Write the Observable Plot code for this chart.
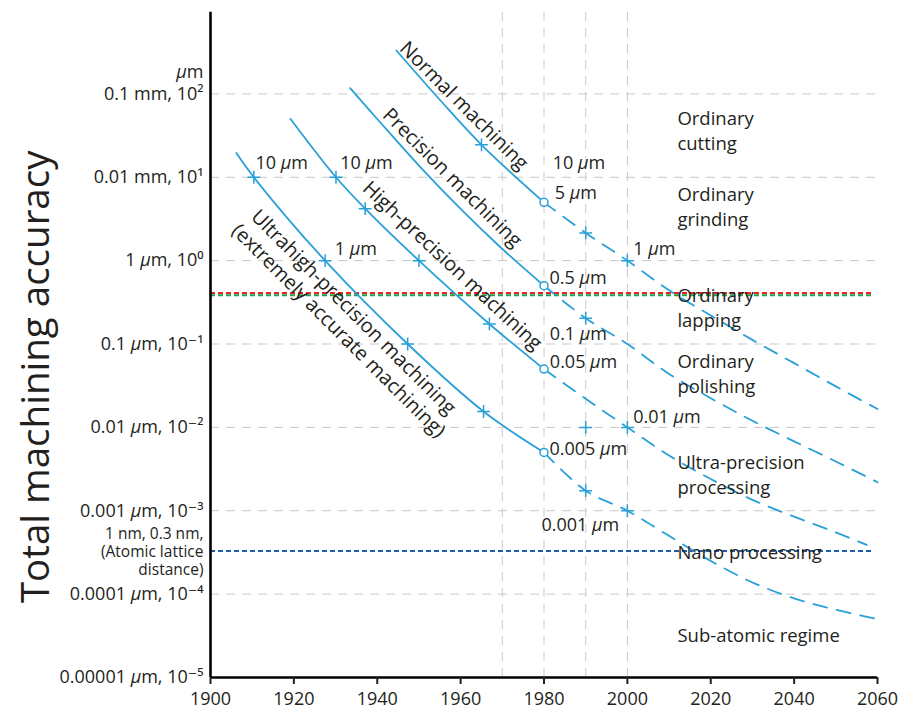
<!DOCTYPE html>
<html>
<head>
<meta charset="utf-8">
<script src="https://cdn.jsdelivr.net/npm/d3@7"></script>
<script src="https://cdn.jsdelivr.net/npm/@observablehq/plot@0.6"></script>
<style>
  body { margin: 0; background: #fff; }
  #chart svg { display: block; }
</style>
</head>
<body>
<div id="chart"></div>
<script>
// Achievable machining accuracy (μm) by year, after Taniguchi.
// Solid = achieved up to 1980, dashed = projected.
const normalSolidYears = [1944.6, 1955, 1965, 1980];
const normalSolidValues = [331, 85, 24.5, 5];
const normalDashYears = [1980, 1990, 2000, 2010, 2020, 2030, 2040, 2050, 2060];
const normalDashValues = [5, 2.15, 1.0, 0.44, 0.22, 0.112, 0.059, 0.031, 0.0166];

const precisionSolidYears = [1933.5, 1940, 1950, 1960, 1970, 1980];
const precisionSolidValues = [117, 50, 13.8, 4.17, 1.38, 0.5];
const precisionDashYears = [1980, 1990, 2000, 2010, 2020, 2030, 2040, 2050, 2060];
const precisionDashValues = [0.5, 0.204, 0.1, 0.0437, 0.0224, 0.012, 0.0068, 0.0039, 0.0022];

const highSolidYears = [1919.2, 1930.1, 1937.1, 1950, 1966.9, 1980];
const highSolidValues = [50, 10, 4.2, 1.0, 0.174, 0.05];
const highDashYears = [1980, 1990, 2000, 2010, 2020, 2030, 2040, 2050, 2057.4];
const highDashValues = [0.05, 0.022, 0.01, 0.0046, 0.0024, 0.00135, 0.00085, 0.00055, 0.00039];

const ultraSolidYears = [1906.2, 1910.4, 1927.5, 1947.3, 1965.5, 1980];
const ultraSolidValues = [19.5, 10, 1.0, 0.1, 0.0155, 0.005];
const ultraDashYears = [1980, 1990, 2000, 2010, 2020, 2030, 2040, 2050, 2060];
const ultraDashValues = [0.005, 0.00174, 0.001, 0.0005, 0.00025, 0.000138, 0.000089, 0.000065, 0.00005];

// milestone markers (+)
const crossYears = [1965, 1990, 2000, 1990, 1930.1, 1937.1, 1950, 1966.9, 2000, 1910.4, 1927.5, 1947.3, 1965.5, 1990, 2000, 1990];
const crossValues = [24.5, 2.15, 1.0, 0.204, 10, 4.2, 1.0, 0.174, 0.01, 10, 1.0, 0.1, 0.0155, 0.00174, 0.001, 0.01];

// 1980 state of the art (open circles)
const circleYears = [1980, 1980, 1980, 1980];
const circleValues = [5, 0.5, 0.05, 0.005];

// reference levels (μm)
const redLevel = 0.41;
const greenLevel = 0.385;
const atomicLevel = 0.00033;

// axes
const xTicks = [1900, 1920, 1940, 1960, 1980, 2000, 2020, 2040, 2060];
const xGridYears = [1970, 1980, 1990, 2000];
const yTicks = [1e2, 1e1, 1e0, 1e-1, 1e-2, 1e-3, 1e-4, 1e-5];
const yTickLabels = [
  "0.1 mm, 10²", "0.01 mm, 10¹", "1 μm, 10⁰", "0.1 μm, 10⁻¹",
  "0.01 μm, 10⁻²", "0.001 μm, 10⁻³", "0.0001 μm, 10⁻⁴", "0.00001 μm, 10⁻⁵"
];
const yTop = 950;
const yTitle = "Total machining accuracy";

// text along the curves
const curveLabels = ["Normal machining", "Precision machining", "High-precision machining",
  "Ultrahigh-precision machining", "(extremely accurate machining)"];
const curveLabelYears = [1960.8, 1958.0, 1958.0, 1934.3, 1930.7];
const curveLabelValues = [72, 9.86, 0.867, 0.24, 0.144];
const curveLabelAngles = [45, 45, 43, 45, 45];

// accuracy annotations
const noteTexts = ["10 μm", "10 μm", "1 μm", "10 μm", "5 μm", "1 μm", "0.5 μm", "0.1 μm",
  "0.05 μm", "0.01 μm", "0.005 μm", "0.001 μm"];
const noteYears = [1910.8, 1931.1, 1929.8, 1982.1, 1982.6, 2001.4, 1981.3, 1981.4, 1981.4, 2001.4, 1981.3, 1979.4];
const noteValues = [14.9, 14.9, 1.38, 14.9, 6.4, 1.38, 0.61, 0.132, 0.060, 0.0132, 0.0054, 0.00067];

// processing regimes
const regimeTexts = ["Ordinary\ncutting", "Ordinary\ngrinding", "Ordinary\nlapping", "Ordinary\npolishing",
  "Ultra-precision\nprocessing", "Nano processing", "Sub-atomic regime"];
const regimeValues = [37.6, 4.62, 0.278, 0.0451, 0.00278, 0.000328, 0.0000334];
const regimeYear = 2012;

const rows = (xs, ys) => xs.map((x, i) => ({x, y: ys[i]}));
const zipText = (ts, xs, ys, extra) => ts.map((t, i) => ({t, x: xs[i], y: ys[i], a: extra ? extra[i] : 0}));

const blue = "#29a0d8";
const ink = "#231f20";
const grid = "#c9c9c9";

const solidSeries = [
  rows(normalSolidYears, normalSolidValues),
  rows(precisionSolidYears, precisionSolidValues),
  rows(highSolidYears, highSolidValues),
  rows(ultraSolidYears, ultraSolidValues)
];
const dashSeries = [
  rows(normalDashYears, normalDashValues),
  rows(precisionDashYears, precisionDashValues),
  rows(highDashYears, highDashValues),
  rows(ultraDashYears, ultraDashValues)
];

const chart = Plot.plot({
  width: 899,
  height: 709,
  marginLeft: 210,
  marginRight: 22,
  marginTop: 10,
  marginBottom: 32,
  style: {fontFamily: "'Open Sans', 'DejaVu Sans', sans-serif", color: ink, background: "#fff", overflow: "visible"},
  x: {domain: [1900, 2060]},
  y: {type: "log", domain: [1e-5, 1e3]},
  marks: [
    // grid
    Plot.ruleY(yTicks.slice(0, -1), {x1: 1900, x2: 2060, stroke: grid, strokeWidth: 1, strokeDasharray: "9,7"}),
    Plot.ruleX(xGridYears, {y1: 1e-5, y2: yTop, stroke: grid, strokeWidth: 1, strokeDasharray: "9,7"}),
    // reference levels
    Plot.ruleY([redLevel], {x1: 1900, x2: 2059, stroke: "#e8231f", strokeWidth: 2, strokeDasharray: "5,3"}),
    Plot.ruleY([greenLevel], {x1: 1900, x2: 2059, stroke: "#1e9f48", strokeWidth: 2, strokeDasharray: "5,3"}),
    Plot.ruleY([atomicLevel], {x1: 1900, x2: 2059, stroke: "#1c5da8", strokeWidth: 2, strokeDasharray: "5,3"}),
    // curves
    ...solidSeries.map(d => Plot.line(d, {x: "x", y: "y", stroke: blue, strokeWidth: 1.8, curve: "catmull-rom"})),
    ...dashSeries.map(d => Plot.line(d, {x: "x", y: "y", stroke: blue, strokeWidth: 1.8, strokeDasharray: "14,10", curve: "catmull-rom"})),
    Plot.dot(rows(crossYears, crossValues), {x: "x", y: "y", symbol: "plus", r: 4.2, stroke: blue, strokeWidth: 1.5}),
    Plot.dot(rows(circleYears, circleValues), {x: "x", y: "y", r: 4, fill: "#fff", stroke: blue, strokeWidth: 1.5}),
    // regime labels
    Plot.text(zipText(regimeTexts, regimeTexts.map(() => regimeYear), regimeValues), {
      x: "x", y: "y", text: "t", textAnchor: "start", fontSize: 18.5, lineHeight: 1.35, fill: ink
    }),
    // annotations
    Plot.text(zipText(noteTexts, noteYears, noteValues), {
      x: "x", y: "y", text: "t", textAnchor: "start", fontSize: 18, fill: ink
    }),
    Plot.text(zipText(curveLabels, curveLabelYears, curveLabelValues, curveLabelAngles), {
      x: "x", y: "y", text: "t", rotate: "a", fontSize: 20, fill: ink
    }),
    // axes
    Plot.ruleX([1900], {y1: 1e-5, y2: yTop, stroke: "#000", strokeWidth: 2.6}),
    Plot.ruleY([1e-5], {x1: 1900, x2: 2060, stroke: "#000", strokeWidth: 2.6}),
    Plot.axisX({ticks: xTicks, tickSize: 7, tickPadding: 8, fontSize: 18, strokeWidth: 2, label: null, tickFormat: d => String(d)}),
    Plot.axisY({ticks: yTicks, tickSize: 0, tickPadding: 7, fontSize: 18, label: null,
      tickFormat: d => yTickLabels[yTicks.indexOf(d)]}),
    Plot.text(["μm"], {x: 1900, y: 180, dx: -7, textAnchor: "end", fontSize: 18, fill: ink}),
    Plot.text(["1 nm, 0.3 nm,\n(Atomic lattice\ndistance)"], {x: 1900, y: atomicLevel, dx: -7, textAnchor: "end", fontSize: 15.5, lineHeight: 1.16, fill: ink}),
    Plot.text([yTitle], {x: 1858.2, y: 0.0404, rotate: -90, fontSize: 38.5, fill: ink})
  ]
});

// italic μ in all labels
const NS = "http://www.w3.org/2000/svg";
chart.querySelectorAll("text, tspan").forEach(el => {
  if (el.children.length) return;
  const s = el.textContent;
  if (!s.includes("μ")) return;
  el.textContent = "";
  s.split("μ").forEach((part, i) => {
    if (i > 0) {
      const t = document.createElementNS(NS, "tspan");
      t.setAttribute("font-style", "italic");
      t.textContent = "μ";
      el.appendChild(t);
    }
    if (part) el.appendChild(document.createTextNode(part));
  });
});

document.getElementById("chart").appendChild(chart);
</script>
</body>
</html>
